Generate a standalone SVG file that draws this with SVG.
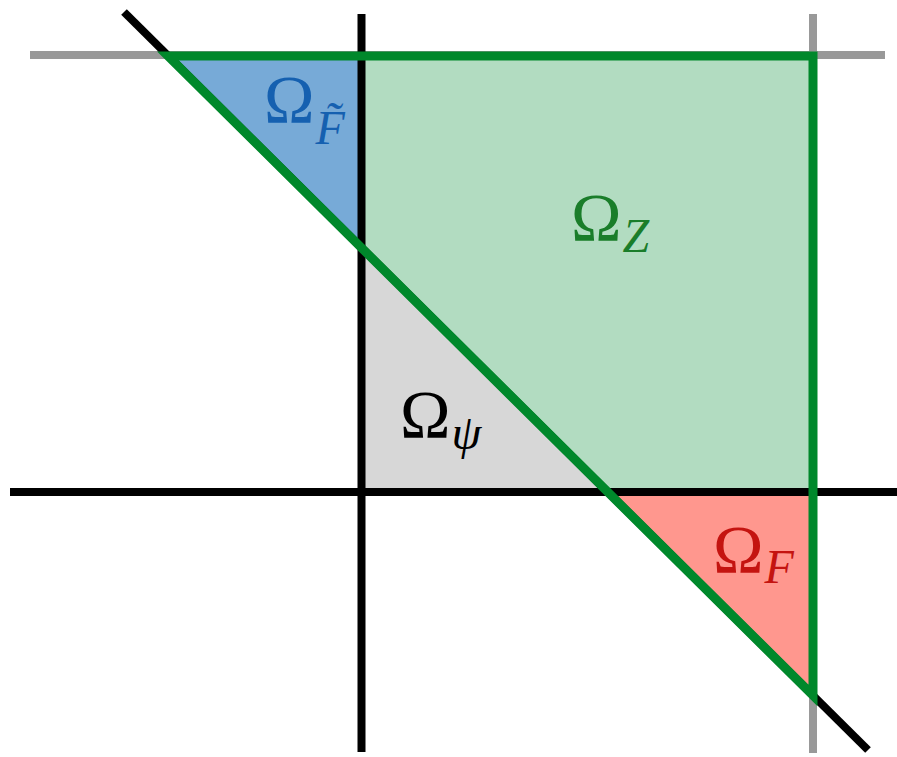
<svg xmlns="http://www.w3.org/2000/svg" width="897" height="757" viewBox="0 0 897 757">
<style>
.ax{stroke:#000;stroke-width:8;fill:none}
.gr{stroke:#999;stroke-width:8;fill:none}
.om{font-family:"Liberation Serif","DejaVu Serif",serif;font-size:68px}
.sub{font-style:italic;font-size:48px}
</style>
<rect width="897" height="757" fill="#fff"/>
<g id="regions">
<polygon id="blue" points="168,56 361.5,56 361.5,247.6" fill="#77AAD7"/>
<polygon id="green" points="361.5,56 813,56 813,492 607.9,492 361.5,247.6" fill="#B2DCC1"/>
<polygon id="gray" points="361.5,247.6 607.9,492 361.5,492" fill="#D7D7D7"/>
<polygon id="red" points="607.9,492 813,492 813,695.5" fill="#FF978E"/>
</g>
<g id="connectors">
<line class="gr" x1="30" y1="55" x2="885" y2="55"/>
<line class="gr" x1="813" y1="14" x2="813" y2="753"/>
<line class="ax" x1="10" y1="492" x2="897" y2="492"/>
<line class="ax" x1="361.5" y1="14" x2="361.5" y2="752"/>
<line class="ax" x1="124" y1="12" x2="868" y2="750"/>
<polygon points="168,56 813,56 813,695.5" fill="none" stroke="#00882B" stroke-width="9" stroke-linejoin="miter"/>
</g>
<g id="labels">
<g id="lblFt" fill="#1560B0"><text class="om" x="264" y="122">Ω<tspan class="sub" dx="1" y="144">F̃</tspan></text></g>
<g id="lblZ" fill="#1A7D2A"><text class="om" x="571" y="240">Ω<tspan class="sub" dx="1" y="252">Z</tspan></text></g>
<g id="lblPsi" fill="#000"><text class="om" x="400" y="437">Ω<tspan class="sub" dx="1" y="449">ψ</tspan></text></g>
<g id="lblF" fill="#C41410"><text class="om" x="713" y="572">Ω<tspan class="sub" dx="1" y="583">F</tspan></text></g>
</g>
</svg>
